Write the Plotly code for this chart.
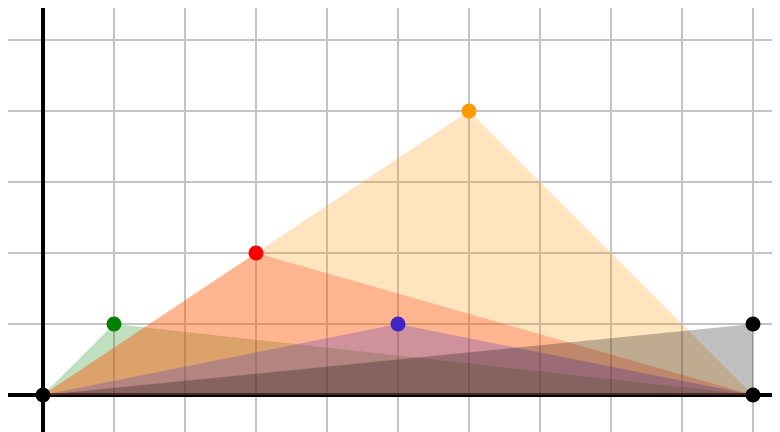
import plotly.graph_objects as go

# Data
series_names = ["green", "red", "orange", "blue", "black"]
apex_x = [1, 3, 6, 5, 10]
apex_y = [1, 2, 4, 1, 1]
base_x = [0, 10]
base_y = [0, 0]
marker_colors = ["#008000", "#ff0000", "#ff9900", "#4026c4", "#000000"]
fill_colors = ["rgba(0,128,0,0.25)", "rgba(255,0,0,0.25)", "rgba(255,153,0,0.25)",
               "rgba(64,38,196,0.25)", "rgba(0,0,0,0.25)"]

fig = go.Figure()
for name, ax_, ay_, fc in zip(series_names, apex_x, apex_y, fill_colors):
    fig.add_trace(go.Scatter(
        x=[base_x[0], ax_, base_x[1]], y=[base_y[0], ay_, base_y[1]],
        fill="toself", fillcolor=fc, mode="none", line=dict(width=0),
        hoverinfo="skip", showlegend=False, name=name))

fig.add_trace(go.Scatter(x=base_x, y=base_y, mode="markers",
                         marker=dict(size=15, color="#000000"), showlegend=False))
for name, ax_, ay_, mc in zip(series_names, apex_x, apex_y, marker_colors):
    fig.add_trace(go.Scatter(x=[ax_], y=[ay_], mode="markers",
                             marker=dict(size=15, color=mc), showlegend=False, name=name))

axis_common = dict(showticklabels=False, ticks="", dtick=1, tick0=0,
                   showgrid=True, gridcolor="#c4c4c4", gridwidth=2,
                   zeroline=True, zerolinecolor="#000000", zerolinewidth=4,
                   showline=False, fixedrange=True)
fig.update_xaxes(range=[-0.493, 10.493], **axis_common)
fig.update_yaxes(range=[-0.634, 5.451], **axis_common)
fig.update_layout(width=780, height=432, margin=dict(l=0, r=0, t=0, b=0),
                  plot_bgcolor="white", paper_bgcolor="white", showlegend=False)
fig.write_html("out.html")
